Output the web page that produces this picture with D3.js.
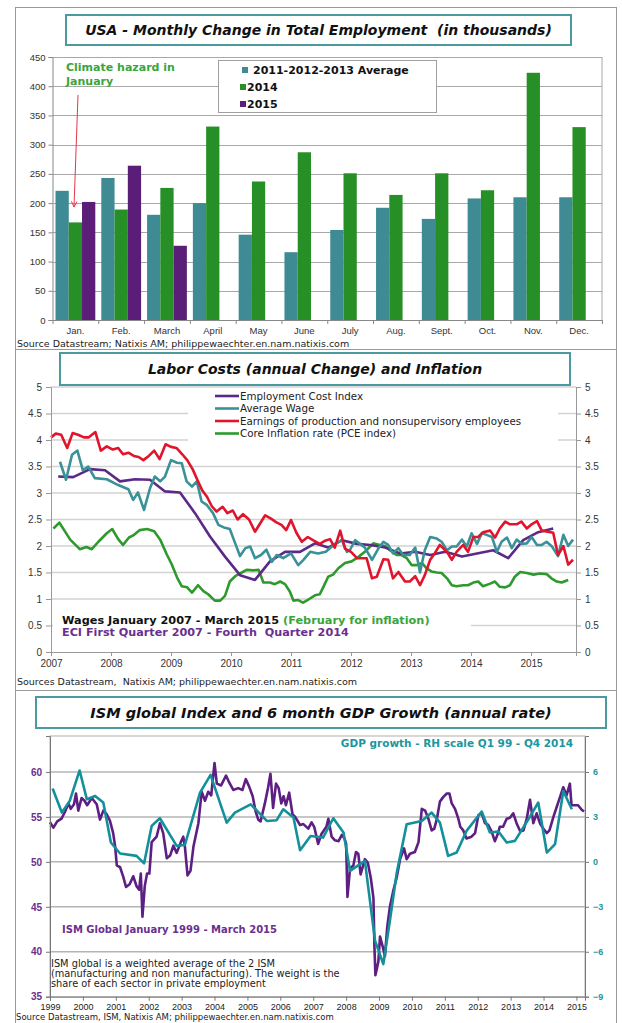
<!DOCTYPE html>
<html>
<head>
<meta charset="utf-8">
<script src="https://cdn.jsdelivr.net/npm/d3@7"></script>
<style>
  body { margin: 0; background: #fff; }
  svg { font-family: "DejaVu Sans", Verdana, sans-serif; }
  svg text { white-space: pre; }
  .axis text { fill: #333; }
</style>
</head>
<body>
<div class="container"></div>
<script>
// ---------- data: panel 1 (monthly change in employment) ----------
const months = ["Jan.", "Feb.", "March", "April", "May", "June", "July", "Aug.", "Sept.", "Oct.", "Nov.", "Dec."];
const barSeries = ["2011-2012-2013 Average", "2014", "2015"];
const avg111213 = [221, 243, 180, 200, 146, 116, 154, 192, 173, 208, 210, 210];
const jobs2014 = [167, 189, 226, 331, 237, 287, 251, 214, 251, 222, 423, 330];
const jobs2015 = [202, 264, 127];
const barTicks = [0, 50, 100, 150, 200, 250, 300, 350, 400, 450];

// ---------- data: panel 2 (labor costs and inflation), [year, %] ----------
const laborNames = ["Employment Cost Index", "Average Wage", "Earnings of production and nonsupervisory employees", "Core Inflation rate (PCE index)"];
const eci = [[2007.12,3.31],[2007.37,3.3],[2007.65,3.45],[2007.9,3.43],[2008.15,3.22],[2008.4,3.26],[2008.65,3.25],[2008.9,3.03],[2009.15,3.01],[2009.4,2.62],[2009.65,2.18],[2009.9,1.8],[2010.15,1.45],[2010.4,1.36],[2010.65,1.71],[2010.9,1.89],[2011.15,1.89],[2011.4,2.05],[2011.62,1.97],[2011.85,2.11],[2012.1,2.04],[2012.32,2.02],[2012.57,1.97],[2012.82,1.86],[2013.07,1.89],[2013.32,1.83],[2013.57,1.89],[2013.85,1.8],[2014.1,1.86],[2014.37,1.92],[2014.62,1.77],[2014.87,2.11],[2015.12,2.26],[2015.37,2.33]];
const avgWage = [[2007.15,3.59],[2007.25,3.25],[2007.35,3.72],[2007.44,3.8],[2007.53,3.43],[2007.62,3.5],[2007.73,3.28],[2007.93,3.26],[2008.12,3.15],[2008.29,3.07],[2008.37,2.87],[2008.45,3.01],[2008.55,2.68],[2008.65,3.09],[2008.73,3.31],[2008.82,3.22],[2008.9,3.31],[2009.0,3.62],[2009.1,3.57],[2009.18,3.56],[2009.26,3.22],[2009.35,3.12],[2009.43,3.22],[2009.51,2.84],[2009.6,2.77],[2009.7,2.62],[2009.79,2.4],[2009.88,2.35],[2009.98,2.32],[2010.07,2.05],[2010.15,1.81],[2010.24,1.96],[2010.32,1.99],[2010.4,1.77],[2010.5,1.83],[2010.59,1.93],[2010.68,1.7],[2010.76,1.83],[2010.87,1.77],[2011.0,1.86],[2011.12,1.64],[2011.2,1.73],[2011.32,1.89],[2011.45,1.86],[2011.58,1.89],[2011.71,2.02],[2011.85,2.11],[2011.93,1.89],[2011.98,1.92],[2012.07,2.11],[2012.15,2.04],[2012.23,1.97],[2012.35,1.74],[2012.46,1.96],[2012.54,2.08],[2012.62,2.02],[2012.7,1.86],[2012.79,1.96],[2012.87,1.83],[2012.98,1.83],[2013.07,1.97],[2013.15,1.5],[2013.23,1.92],[2013.32,2.17],[2013.43,2.14],[2013.51,2.08],[2013.6,1.92],[2013.68,1.99],[2013.76,1.99],[2013.85,2.12],[2013.93,1.99],[2014.01,2.24],[2014.1,2.04],[2014.18,2.24],[2014.26,2.21],[2014.35,2.17],[2014.43,1.89],[2014.51,2.08],[2014.6,2.16],[2014.68,1.96],[2014.76,2.12],[2014.85,2.04],[2014.93,2.05],[2015.01,2.17],[2015.1,2.02],[2015.18,2.02],[2015.26,2.08],[2015.35,1.99],[2015.45,1.81],[2015.54,2.21],[2015.62,2.0],[2015.7,2.12]];
const earnings = [[2007.0,4.05],[2007.08,4.12],[2007.17,4.1],[2007.27,3.85],[2007.36,4.13],[2007.45,4.1],[2007.55,4.05],[2007.63,4.05],[2007.74,4.15],[2007.83,3.8],[2007.93,3.88],[2008.03,3.82],[2008.12,3.85],[2008.2,3.73],[2008.29,3.76],[2008.38,3.7],[2008.46,3.68],[2008.54,3.62],[2008.63,3.7],[2008.72,3.8],[2008.81,3.64],[2008.91,3.92],[2009.0,3.87],[2009.09,3.85],[2009.18,3.74],[2009.27,3.62],[2009.36,3.45],[2009.45,3.22],[2009.52,3.05],[2009.6,2.93],[2009.68,2.75],[2009.76,2.65],[2009.86,2.74],[2009.94,2.62],[2010.03,2.67],[2010.11,2.5],[2010.2,2.6],[2010.3,2.5],[2010.4,2.27],[2010.57,2.58],[2010.66,2.52],[2010.75,2.45],[2010.84,2.4],[2010.92,2.3],[2011.0,2.49],[2011.09,2.25],[2011.18,2.08],[2011.28,2.17],[2011.38,2.1],[2011.48,2.04],[2011.57,2.1],[2011.65,2.13],[2011.73,1.97],[2011.82,2.29],[2011.9,1.95],[2012.0,1.89],[2012.1,1.77],[2012.26,1.77],[2012.35,1.39],[2012.43,1.42],[2012.54,1.75],[2012.62,1.74],[2012.7,1.39],[2012.79,1.51],[2012.9,1.33],[2012.98,1.33],[2013.07,1.43],[2013.15,1.26],[2013.23,1.45],[2013.32,1.74],[2013.4,1.87],[2013.48,2.02],[2013.6,1.89],[2013.68,1.74],[2013.76,1.89],[2013.87,2.02],[2013.95,1.89],[2014.04,2.17],[2014.12,2.17],[2014.2,2.26],[2014.32,2.29],[2014.4,2.16],[2014.48,2.33],[2014.57,2.46],[2014.65,2.41],[2014.76,2.41],[2014.84,2.46],[2014.93,2.33],[2015.01,2.41],[2015.1,2.47],[2015.18,2.29],[2015.28,2.27],[2015.37,2.25],[2015.45,1.83],[2015.54,2.0],[2015.62,1.65],[2015.7,1.74]];
const coreInflation = [[2007.04,2.33],[2007.14,2.44],[2007.23,2.28],[2007.32,2.12],[2007.48,1.94],[2007.59,1.98],[2007.68,1.94],[2007.79,2.08],[2007.93,2.24],[2008.02,2.32],[2008.12,2.13],[2008.2,2.02],[2008.3,2.16],[2008.37,2.2],[2008.48,2.3],[2008.6,2.32],[2008.72,2.28],[2008.82,2.12],[2008.93,1.84],[2009.01,1.66],[2009.1,1.41],[2009.18,1.24],[2009.27,1.22],[2009.35,1.12],[2009.45,1.26],[2009.54,1.15],[2009.62,1.09],[2009.73,0.97],[2009.82,0.97],[2009.9,1.06],[2009.98,1.33],[2010.07,1.43],[2010.18,1.5],[2010.26,1.55],[2010.37,1.54],[2010.46,1.55],[2010.54,1.31],[2010.65,1.31],[2010.73,1.28],[2010.82,1.33],[2010.9,1.28],[2010.98,1.14],[2011.04,0.97],[2011.12,0.98],[2011.2,0.93],[2011.29,0.99],[2011.4,1.07],[2011.48,1.09],[2011.54,1.23],[2011.62,1.42],[2011.7,1.46],[2011.79,1.58],[2011.9,1.68],[2012.01,1.71],[2012.12,1.79],[2012.23,1.89],[2012.32,1.99],[2012.37,2.05],[2012.48,2.02],[2012.57,2.0],[2012.65,1.92],[2012.76,1.83],[2012.84,1.83],[2012.93,1.77],[2013.01,1.64],[2013.1,1.64],[2013.18,1.68],[2013.26,1.58],[2013.34,1.52],[2013.43,1.5],[2013.51,1.49],[2013.6,1.39],[2013.68,1.26],[2013.76,1.24],[2013.87,1.26],[2013.95,1.26],[2014.04,1.31],[2014.12,1.33],[2014.2,1.24],[2014.32,1.29],[2014.4,1.33],[2014.48,1.23],[2014.57,1.22],[2014.65,1.26],[2014.73,1.42],[2014.82,1.51],[2014.93,1.49],[2015.04,1.46],[2015.15,1.48],[2015.26,1.47],[2015.34,1.39],[2015.43,1.33],[2015.51,1.31],[2015.62,1.36]];
const laborYears = [2007, 2008, 2009, 2010, 2011, 2012, 2013, 2014, 2015];
const laborTicks = [0, 0.5, 1, 1.5, 2, 2.5, 3, 3.5, 4, 4.5, 5];

// ---------- data: panel 3 (ISM and GDP growth), [year, value] ----------
const ism = [[1999.0,54.4],[1999.1,53.8],[1999.22,54.5],[1999.35,54.8],[1999.46,55.6],[1999.56,56.5],[1999.63,55.9],[1999.73,56.4],[1999.79,57.6],[1999.86,55.7],[1999.96,57.1],[2000.05,56.8],[2000.13,56.3],[2000.27,57.1],[2000.42,56.4],[2000.52,54.7],[2000.62,55.7],[2000.72,55.3],[2000.82,54.6],[2000.92,53.2],[2000.98,51.7],[2001.03,49.6],[2001.13,49.4],[2001.23,48.3],[2001.31,47.2],[2001.42,47.5],[2001.53,48.4],[2001.63,47.3],[2001.71,46.9],[2001.76,48.7],[2001.81,43.9],[2001.88,47.3],[2001.95,48.7],[2002.02,48.7],[2002.09,52.2],[2002.24,52.8],[2002.34,54.3],[2002.44,53.2],[2002.55,50.4],[2002.65,50.7],[2002.75,51.8],[2002.85,51.0],[2003.0,52.4],[2003.05,52.8],[2003.1,51.7],[2003.18,48.5],[2003.27,49.0],[2003.36,51.7],[2003.51,54.3],[2003.61,57.8],[2003.71,56.8],[2003.81,57.8],[2003.9,57.4],[2004.0,61.0],[2004.07,58.7],[2004.2,58.5],[2004.35,59.6],[2004.45,58.8],[2004.57,58.0],[2004.72,58.2],[2004.85,58.0],[2004.95,59.2],[2005.05,58.4],[2005.16,57.3],[2005.25,55.6],[2005.33,54.7],[2005.4,54.5],[2005.53,56.5],[2005.63,58.3],[2005.7,59.8],[2005.78,56.0],[2005.87,58.7],[2005.95,58.2],[2006.03,56.5],[2006.1,57.3],[2006.17,56.3],[2006.27,57.7],[2006.37,55.3],[2006.45,55.0],[2006.6,54.1],[2006.7,54.2],[2006.85,53.7],[2006.95,54.4],[2007.03,53.9],[2007.15,52.0],[2007.25,53.1],[2007.4,53.9],[2007.46,54.8],[2007.56,52.8],[2007.66,52.4],[2007.77,52.3],[2007.87,53.0],[2007.95,52.6],[2008.0,52.0],[2008.04,46.1],[2008.12,49.3],[2008.22,49.6],[2008.3,51.1],[2008.37,50.9],[2008.44,48.6],[2008.57,50.3],[2008.66,49.9],[2008.75,48.2],[2008.83,46.0],[2008.86,40.6],[2008.89,37.4],[2008.98,38.9],[2009.03,41.7],[2009.11,40.6],[2009.18,39.5],[2009.25,42.8],[2009.33,45.0],[2009.44,46.9],[2009.54,48.3],[2009.64,50.3],[2009.76,51.5],[2009.84,50.3],[2009.94,50.9],[2010.09,51.1],[2010.2,52.2],[2010.3,55.9],[2010.4,55.7],[2010.5,54.8],[2010.6,53.5],[2010.68,53.7],[2010.76,54.8],[2010.85,56.7],[2010.95,57.2],[2011.06,57.6],[2011.14,57.6],[2011.21,56.5],[2011.31,55.9],[2011.41,54.8],[2011.47,53.9],[2011.56,53.5],[2011.66,52.6],[2011.81,52.8],[2011.92,53.2],[2012.02,55.2],[2012.12,55.4],[2012.22,54.3],[2012.32,54.1],[2012.42,53.4],[2012.52,52.3],[2012.62,53.2],[2012.67,53.9],[2012.77,53.9],[2012.88,54.8],[2012.98,54.9],[2013.08,55.4],[2013.18,54.3],[2013.29,53.4],[2013.39,53.5],[2013.49,54.8],[2013.59,56.9],[2013.69,54.3],[2013.79,55.4],[2013.89,54.3],[2013.99,53.7],[2014.1,53.2],[2014.18,53.5],[2014.3,55.0],[2014.4,56.1],[2014.5,57.2],[2014.6,58.3],[2014.7,57.4],[2014.8,58.7],[2014.85,56.3],[2014.95,56.3],[2015.05,56.3],[2015.16,55.8],[2015.23,55.6]];
const gdpGrowth = [[1999.08,4.9],[1999.36,3.29],[1999.6,4.07],[1999.9,6.1],[2000.12,4.18],[2000.37,4.4],[2000.62,3.96],[2000.85,1.29],[2001.13,0.56],[2001.63,0.4],[2001.86,-0.1],[2002.09,2.4],[2002.34,2.91],[2002.85,1.07],[2003.1,1.13],[2003.56,4.62],[2003.88,5.8],[2004.37,2.62],[2004.62,3.29],[2005.1,3.84],[2005.59,2.73],[2005.89,2.78],[2006.09,3.51],[2006.4,2.96],[2006.6,0.78],[2006.92,1.73],[2007.3,1.62],[2007.61,2.91],[2007.92,1.96],[2008.12,-0.6],[2008.57,0.07],[2008.88,-5.27],[2009.13,-6.82],[2009.33,-3.93],[2009.54,-0.71],[2009.84,2.51],[2010.3,2.73],[2010.6,3.29],[2010.85,2.62],[2011.1,0.4],[2011.36,0.62],[2011.66,2.07],[2012.12,3.36],[2012.37,1.96],[2012.63,2.02],[2012.88,1.29],[2013.13,1.4],[2013.54,2.84],[2013.84,3.96],[2014.1,0.62],[2014.35,1.18],[2014.6,4.73],[2014.86,3.51]];
const ismYears = d3.range(1999, 2016);
const ismTicks = [35, 40, 45, 50, 55, 60];
const gdpTicks = [-9, -6, -3, 0, 3, 6];

const width = 622;
const height = 1023;

const svg = d3
  .select(".container")
  .append("svg")
  .attr("width", width)
  .attr("height", height);

// outer frame and panel separators
svg.append("rect")
  .attr("x", 15.5).attr("y", 7.5)
  .attr("width", 601).attr("height", 1040)
  .attr("fill", "none").attr("stroke", "#9a9a9a");
[349.5, 690.5].forEach((y) => {
  svg.append("line")
    .attr("x1", 15.5).attr("x2", 616.5).attr("y1", y).attr("y2", y)
    .attr("stroke", "#9a9a9a");
});

const titleBox = (x, y, w, h, label, size) => {
  svg.append("rect")
    .attr("x", x).attr("y", y).attr("width", w).attr("height", h)
    .attr("fill", "#fff").attr("stroke", "#4a9a9f").attr("stroke-width", 2);
  svg.append("text")
    .attr("x", x + w / 2).attr("y", y + h / 2).attr("dy", "0.36em")
    .attr("text-anchor", "middle")
    .attr("font-size", size).attr("font-weight", "bold").attr("font-style", "italic")
    .attr("fill", "#111")
    .text(label);
};

const note = (x, y, label, opts = {}) =>
  svg.append("text")
    .attr("x", x).attr("y", y)
    .attr("font-size", opts.size || 10)
    .attr("font-weight", opts.weight || "normal")
    .attr("fill", opts.color || "#222")
    .attr("text-anchor", opts.anchor || "start")
    .text(label);

// =================== panel 1 : bars ===================
titleBox(66, 15, 505, 30, "USA - Monthly Change in Total Employment  (in thousands)", 14);

const barColors = { "2011-2012-2013 Average": "#3e8b94", "2014": "#268f26", "2015": "#5a1e78" };
const x0 = d3.scaleBand().domain(months).range([52.5, 602]);
const x1 = d3.scaleBand().domain(barSeries).range([3, x0.bandwidth() - 3]);
const y1 = d3.scaleLinear().domain([0, 450]).range([320, 57]);

const g1 = svg.append("g");
g1.selectAll(".grid1")
  .data(barTicks.slice(1))
  .enter()
  .append("line")
  .attr("x1", 52.5).attr("x2", 602)
  .attr("y1", (d) => Math.round(y1(d)) + 0.5).attr("y2", (d) => Math.round(y1(d)) + 0.5)
  .attr("stroke", "#a8a8a8");
g1.append("line")
  .attr("x1", 602).attr("x2", 602).attr("y1", y1(450)).attr("y2", y1(0))
  .attr("stroke", "#a8a8a8");

// legend box hides the grid behind it
g1.append("rect")
  .attr("x", 218.5).attr("y", 60.5).attr("width", 218).attr("height", 52)
  .attr("fill", "#fff").attr("stroke", "#a0a0a0");
const legend1 = [
  { name: barSeries[0], sx: 242, tx: 253, y: 70 },
  { name: barSeries[1], sx: 240, tx: 247, y: 87 },
  { name: barSeries[2], sx: 240, tx: 247, y: 104 },
];
legend1.forEach((d) => {
  g1.append("rect").attr("x", d.sx).attr("y", d.y - 3).attr("width", 6).attr("height", 6)
    .attr("fill", barColors[d.name]);
  g1.append("text").attr("x", d.tx).attr("y", d.y).attr("dy", "0.36em")
    .attr("font-size", 11).attr("font-weight", "bold").attr("fill", "#111")
    .text(d.name);
});

const barData = [];
months.forEach((m, i) => {
  barData.push({ month: m, series: barSeries[0], value: avg111213[i] });
  barData.push({ month: m, series: barSeries[1], value: jobs2014[i] });
  if (i < jobs2015.length) barData.push({ month: m, series: barSeries[2], value: jobs2015[i] });
});

g1.selectAll(".bar")
  .data(barData)
  .enter()
  .append("rect")
  .attr("class", "bar")
  .attr("x", (d) => x0(d.month) + x1(d.series))
  .attr("width", x1.bandwidth())
  .attr("y", (d) => y1(d.value))
  .attr("height", (d) => y1(0) - y1(d.value))
  .attr("fill", (d) => barColors[d.series]);

const yAxis1 = d3.axisLeft(y1).tickValues(barTicks).tickSize(4).tickPadding(3);
g1.append("g")
  .attr("class", "axis")
  .attr("transform", "translate(52.5,0)")
  .call(yAxis1)
  .call((g) => g.selectAll("text").attr("font-size", 9.5))
  .call((g) => g.selectAll("line,path").attr("stroke", "#888"));

// month separators and labels
const monthEdge = d3.scaleLinear().domain([0, 12]).range([52.5, 602]);
g1.append("g")
  .attr("transform", `translate(0,${y1(0)})`)
  .call(d3.axisBottom(monthEdge).tickValues(d3.range(13)).tickFormat("").tickSize(4).tickSizeOuter(0))
  .call((g) => g.selectAll("line,path").attr("stroke", "#888"));
g1.append("g")
  .attr("class", "axis")
  .attr("transform", `translate(0,${y1(0)})`)
  .call(d3.axisBottom(x0).tickSize(0).tickPadding(7))
  .call((g) => g.select(".domain").remove())
  .call((g) => g.selectAll("text").attr("font-size", 9.5));

note(66, 71, "Climate hazard in", { size: 11, weight: "bold", color: "#3aa53a" });
note(66, 85, "January", { size: 11, weight: "bold", color: "#3aa53a" });
svg.append("defs").append("marker")
  .attr("id", "arrow").attr("viewBox", "0 0 10 10")
  .attr("refX", 9).attr("refY", 5).attr("markerWidth", 7).attr("markerHeight", 7)
  .attr("orient", "auto")
  .append("path").attr("d", "M1,1L9,5L1,9").attr("fill", "none").attr("stroke", "#e23a4a").attr("stroke-width", 1.4);
g1.append("line")
  .attr("x1", 78).attr("y1", 95).attr("x2", 74).attr("y2", 207)
  .attr("stroke", "#e23a4a").attr("stroke-width", 1)
  .attr("marker-end", "url(#arrow)");

note(17, 347, "Source Datastream; Natixis AM; philippewaechter.en.nam.natixis.com", { size: 9.5 });

// =================== panel 2 : labor costs ===================
titleBox(60, 353, 510, 32, "Labor Costs (annual Change) and Inflation", 14);

const x2 = d3.scaleLinear().domain([2007, 2015.75]).range([51, 576]);
const y2 = d3.scaleLinear().domain([0, 5]).range([652, 387]);
const g2 = svg.append("g");

g2.selectAll(".grid2")
  .data(laborTicks.slice(1))
  .enter()
  .append("line")
  .attr("x1", 51).attr("x2", 576)
  .attr("y1", (d) => y2(d)).attr("y2", (d) => y2(d))
  .attr("stroke", "#d2d2d2").attr("stroke-width", 1.5);

// white boxes behind the legend and the date notes
g2.append("rect").attr("x", 188).attr("y", 389).attr("width", 370).attr("height", 52).attr("fill", "#fff");
g2.append("rect").attr("x", 53).attr("y", 609).attr("width", 418).attr("height", 36).attr("fill", "#fff");

const laborColors = ["#5b2a86", "#3a9198", "#e0142c", "#2e9a2e"];
const laborSeries = [eci, avgWage, earnings, coreInflation];
const line2 = d3.line().x((d) => x2(d[0])).y((d) => y2(d[1]));
[3, 0, 1, 2].forEach((k) => {
  g2.append("path")
    .datum(laborSeries[k])
    .attr("d", line2)
    .attr("fill", "none")
    .attr("stroke", laborColors[k])
    .attr("stroke-width", 2.6)
    .attr("stroke-linejoin", "round");
});

laborNames.forEach((name, i) => {
  const y = 396 + i * 12.5;
  g2.append("line").attr("x1", 215).attr("x2", 239).attr("y1", y).attr("y2", y)
    .attr("stroke", laborColors[i]).attr("stroke-width", 2.6);
  g2.append("text").attr("x", 240).attr("y", y).attr("dy", "0.36em")
    .attr("font-size", 10.3).attr("fill", "#222").text(name);
});

const axis2Style = (g) => {
  g.selectAll("text").attr("font-size", 10);
  g.selectAll("line,path").attr("stroke", "#999");
};
g2.append("g").attr("class", "axis").attr("transform", "translate(51,0)")
  .call(d3.axisLeft(y2).tickValues(laborTicks).tickSize(5).tickPadding(4).tickFormat(d3.format("")))
  .call(axis2Style);
g2.append("g").attr("class", "axis").attr("transform", "translate(576,0)")
  .call(d3.axisRight(y2).tickValues(laborTicks).tickSize(5).tickPadding(4).tickFormat(d3.format("")))
  .call(axis2Style);
g2.append("g").attr("class", "axis").attr("transform", `translate(0,${y2(0)})`)
  .call(d3.axisBottom(x2).tickValues(laborYears).tickSize(4).tickPadding(4).tickFormat(d3.format("d")))
  .call(axis2Style);

const wages = g2.append("text").attr("x", 62).attr("y", 624).attr("font-size", 11.3).attr("font-weight", "bold");
wages.append("tspan").attr("fill", "#111").text("Wages January 2007 - March 2015 ");
wages.append("tspan").attr("fill", "#3aa53a").text("(February for inflation)");
note(62, 636, "ECI First Quarter 2007 - Fourth  Quarter 2014", { size: 11.2, weight: "bold", color: "#6a2f8f" });

note(17, 685, "Sources Datastream,  Natixis AM; philippewaechter.en.nam.natixis.com", { size: 9.5 });

// =================== panel 3 : ISM and GDP ===================
titleBox(36, 697, 570, 31, "ISM global Index and 6 month GDP Growth (annual rate)", 14.5);

const x3 = d3.scaleLinear().domain([1999, 2015.26]).range([50, 585]);
const y3 = d3.scaleLinear().domain([35, 64]).range([996.7, 736]);
const y3r = d3.scaleLinear().domain([-9, 8.4]).range([996.7, 736]);
const g3 = svg.append("g");

g3.append("rect")
  .attr("x", 50).attr("y", 736).attr("width", 535).attr("height", 996.7 - 736)
  .attr("fill", "none").attr("stroke", "#b0b0b0");
g3.selectAll(".grid3")
  .data(ismTicks.slice(1))
  .enter()
  .append("line")
  .attr("x1", 50).attr("x2", 585)
  .attr("y1", (d) => y3(d)).attr("y2", (d) => y3(d))
  .attr("stroke", "#b4b4b4").attr("stroke-width", 1.5);

// note box
g3.append("rect").attr("x", 51).attr("y", 956).attr("width", 310).attr("height", 36).attr("fill", "#fff");

const line3 = d3.line().x((d) => x3(d[0])).y((d) => y3(d[1]));
const line3r = d3.line().x((d) => x3(d[0])).y((d) => y3r(d[1]));
g3.append("path").datum(ism).attr("d", line3)
  .attr("fill", "none").attr("stroke", "#5e1f83").attr("stroke-width", 2.6).attr("stroke-linejoin", "round");
g3.append("path").datum(gdpGrowth).attr("d", line3r)
  .attr("fill", "none").attr("stroke", "#13909a").attr("stroke-width", 2.6).attr("stroke-linejoin", "round");

g3.append("g").attr("class", "axis").attr("transform", "translate(50,0)")
  .call(d3.axisLeft(y3).tickValues(ismTicks).tickSize(4).tickPadding(4))
  .call((g) => g.selectAll("text").attr("font-size", 10).attr("font-weight", "bold").style("fill", "#6a2f8f"))
  .call((g) => g.selectAll("line,path").attr("stroke", "#777"));
g3.append("g").attr("class", "axis").attr("transform", "translate(585,0)")
  .call(d3.axisRight(y3r).tickValues(gdpTicks).tickSize(4).tickPadding(4))
  .call((g) => g.selectAll("text").attr("font-size", 9).attr("font-weight", "bold").style("fill", "#1a97a0"))
  .call((g) => g.selectAll("line,path").attr("stroke", "#777"));
g3.append("g").attr("class", "axis").attr("transform", `translate(0,${y3(35)})`)
  .call(d3.axisBottom(x3).tickValues(ismYears).tickSize(4).tickPadding(3).tickFormat(d3.format("d")))
  .call((g) => g.selectAll("text").attr("font-size", 9).style("fill", "#222"))
  .call((g) => g.selectAll("line,path").attr("stroke", "#777"));

note(573, 747, "GDP growth - RH scale Q1 99 - Q4 2014", { size: 10.5, weight: "bold", color: "#1a97a0", anchor: "end" });
note(62, 933, "ISM Global January 1999 - March 2015", { size: 10, weight: "bold", color: "#6a2f8f" });
note(51, 967, "ISM global is a weighted average of the 2 ISM", { size: 9.8 });
note(51, 977, "(manufacturing and non manufacturing). The weight is the", { size: 9.8 });
note(51, 987, "share of each sector in private employment", { size: 9.8 });

note(16, 1020, "Source Datastream, ISM, Natixis AM; philippewaechter.en.nam.natixis.com", { size: 8.5 });
</script>
</body>
</html>
